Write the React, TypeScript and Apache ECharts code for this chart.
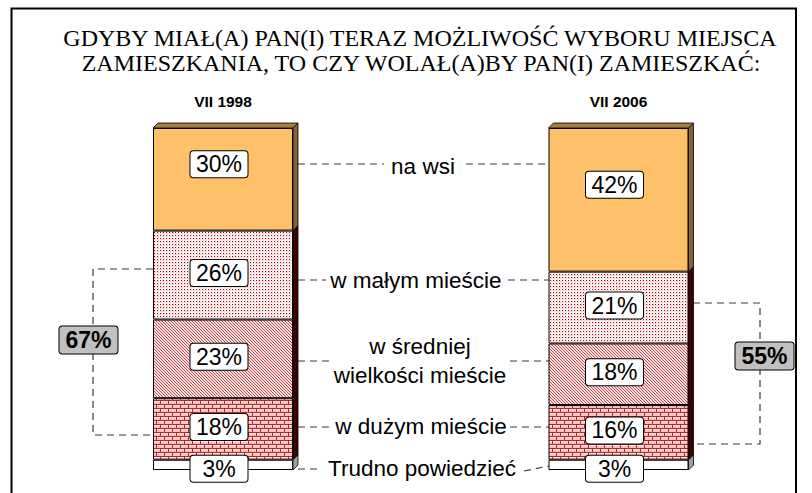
import React, { useEffect, useRef } from 'react';
import * as echarts from 'echarts';

const years = ['VII 1998', 'VII 2006'];
const categories = ['na wsi', 'w małym mieście', 'w średniej\nwielkości mieście', 'w dużym mieście', 'Trudno powiedzieć'];
const values1998 = [30, 26, 23, 18, 3];
const values2006 = [42, 21, 18, 16, 3];
const titleLines = [
  'GDYBY MIAŁ(A) PAN(I) TERAZ MOŻLIWOŚĆ WYBORU MIEJSCA',
  'ZAMIESZKANIA, TO CZY WOLAŁ(A)BY PAN(I) ZAMIESZKAĆ:',
];
// indices of the categories grouped by the brackets (towns)
const bracketGroup = [1, 2, 3];

const SANS = "'Liberation Sans', Arial, sans-serif";
const SERIF = "'Liberation Serif', 'Times New Roman', serif";
const HALF = 70;
const DEPTH = 5;

function makeTile(w: number, h: number, draw: (ctx: CanvasRenderingContext2D) => void) {
  const c = document.createElement('canvas');
  c.width = w;
  c.height = h;
  const ctx = c.getContext('2d') as CanvasRenderingContext2D;
  draw(ctx);
  return { image: c.toDataURL(), imageWidth: w, imageHeight: h, repeat: 'repeat' };
}

function buildFills() {
  const dotted = makeTile(3, 3, (ctx) => {
    ctx.fillStyle = '#ffffff';
    ctx.fillRect(0, 0, 3, 3);
    ctx.fillStyle = '#f1dede';
    ctx.fillRect(0, 2, 3, 1);
    ctx.fillRect(2, 0, 1, 3);
    ctx.fillStyle = '#b00000';
    ctx.fillRect(1, 1, 1, 1);
  });
  const diagonal = makeTile(3, 3, (ctx) => {
    ctx.fillStyle = '#f8e4e4';
    ctx.fillRect(0, 0, 3, 3);
    ctx.fillStyle = '#c04848';
    for (let i = 0; i < 3; i++) ctx.fillRect(i, i, 1, 1);
  });
  const brick = makeTile(8, 8, (ctx) => {
    ctx.fillStyle = '#fbeaea';
    ctx.fillRect(0, 0, 8, 8);
    ctx.fillStyle = '#f0c4c4';
    ctx.fillRect(0, 2, 8, 2);
    ctx.fillRect(0, 6, 8, 2);
    ctx.fillStyle = '#c02020';
    ctx.fillRect(0, 0, 8, 1);
    ctx.fillRect(0, 4, 8, 1);
    ctx.fillRect(0, 1, 1, 3);
    ctx.fillRect(4, 5, 1, 3);
  });
  return ['#ffc06a', dotted, diagonal, brick, '#ffffff'];
}

const sideColors = ['#86622f', '#3e0000', '#3e0000', '#3e0000', '#a0a0a0'];
const topColor = '#a67c45';

export default function App() {
  const ref = useRef<HTMLDivElement>(null);

  useEffect(() => {
    if (!ref.current) return;
    const chart = echarts.init(ref.current, undefined, { renderer: 'svg' });
    const fills = buildFills();
    const n = categories.length;

    const labelDy = (i: number) => (i === 0 ? -15 : i === n - 1 ? 4 : -2);

    const barSeries: any[] = [];
    for (let i = n - 1; i >= 0; i--) {
      barSeries.push({
        type: 'bar',
        name: categories[i],
        stack: 'total',
        barWidth: HALF * 2,
        clip: false,
        data: [values1998[i], values2006[i]],
        itemStyle: { color: fills[i], borderColor: '#000', borderWidth: 1 },
        label: {
          show: true,
          position: 'inside',
          offset: [-4, labelDy(i)],
          formatter: '{c}%',
          color: '#000',
          fontSize: 23,
          fontFamily: SANS,
          backgroundColor: '#fff',
          borderColor: '#000',
          borderWidth: 1,
          borderRadius: 3,
          width: 47,
          align: 'center',
          lineHeight: 25,
          padding: [1, 5, 0, 5],
        },
        emphasis: { disabled: true },
        z: 3,
      });
    }

    const faceData: number[][] = [];
    [values1998, values2006].forEach((vals, c) => {
      let cum = 0;
      for (let i = vals.length - 1; i >= 0; i--) {
        faceData.push([c, cum, cum + vals[i], i]);
        cum += vals[i];
      }
    });

    const faces = {
      type: 'custom',
      clip: false,
      z: 2,
      data: faceData,
      encode: { x: 0, y: [1, 2] },
      renderItem: (_p: any, api: any) => {
        const c = api.value(0);
        const lo = api.value(1);
        const hi = api.value(2);
        const idx = api.value(3);
        const pLo = api.coord([c, lo]);
        const pHi = api.coord([c, hi]);
        const xr = pLo[0] + HALF;
        const xl = pLo[0] - HALF;
        const d = DEPTH;
        const children: any[] = [
          {
            type: 'polygon',
            shape: { points: [[xr, pHi[1]], [xr + d, pHi[1] - d], [xr + d, pLo[1] - d], [xr, pLo[1]]] },
            style: { fill: sideColors[idx], stroke: '#000', lineWidth: 0.8 },
          },
        ];
        if (idx === 0) {
          children.push({
            type: 'polygon',
            shape: { points: [[xl, pHi[1]], [xl + d, pHi[1] - d], [xr + d, pHi[1] - d], [xr, pHi[1]]] },
            style: { fill: topColor, stroke: '#000', lineWidth: 0.8 },
          });
        }
        return { type: 'group', children };
      },
    };

    const sum98 = bracketGroup.reduce((s, i) => s + values1998[i], 0);
    const sum06 = bracketGroup.reduce((s, i) => s + values2006[i], 0);

    const dash = { stroke: '#3a3a3a', lineWidth: 1.2, lineDash: [7, 5], fill: 'none' };
    const seg = (x1: number, y1: number, x2: number, y2: number) => ({
      type: 'line',
      shape: { x1, y1, x2, y2 },
      style: dash,
      silent: true,
    });
    const midText = (text: string, x: number, y: number) => ({
      type: 'text',
      x,
      y,
      style: {
        text,
        fontSize: 22.5,
        fontFamily: SANS,
        fill: '#000',
        align: 'center',
        verticalAlign: 'middle',
        lineHeight: 29,
      },
    });
    const sumBox = (text: string, x: number, y: number) => ({
      type: 'text',
      x,
      y,
      z: 10,
      style: {
        text,
        fontSize: 23,
        fontWeight: 'bold',
        fontFamily: SANS,
        fill: '#000',
        align: 'center',
        verticalAlign: 'middle',
        backgroundColor: '#c0c0c0',
        borderColor: '#000',
        borderWidth: 1,
        borderRadius: 3,
        padding: [1, 6, 1, 6],
        lineHeight: 25,
      },
    });

    const graphic: any[] = [
      {
        type: 'polyline',
        shape: { points: [[11.5, 500], [11.5, 8.5], [796, 8.5], [796, 500]] },
        style: { stroke: '#000', lineWidth: 2, fill: 'none' },
      },
      {
        type: 'text',
        x: 420,
        y: 38,
        style: { text: titleLines[0], fontSize: 24, fontFamily: SERIF, fill: '#000', align: 'center', verticalAlign: 'middle' },
      },
      {
        type: 'text',
        x: 421,
        y: 63,
        style: { text: titleLines[1], fontSize: 24, fontFamily: SERIF, fill: '#000', align: 'center', verticalAlign: 'middle' },
      },
      // leader lines
      seg(298, 164, 384, 164),
      seg(466, 164, 549, 164),
      seg(298, 280, 326, 280),
      seg(508, 280, 549, 280),
      seg(298, 361, 330, 361),
      seg(510, 361, 549, 361),
      seg(298, 427, 334, 427),
      seg(510, 427, 549, 427),
      seg(298, 469, 320, 469),
      seg(524, 471, 549, 466),
      midText(categories[0], 423, 166),
      midText(categories[1], 416, 280),
      midText(categories[2], 420, 361),
      midText(categories[3], 421, 426),
      midText(categories[4], 422, 468),
      // brackets
      {
        type: 'polyline',
        shape: { points: [[153, 269], [93, 269], [93, 435], [153, 435]] },
        style: dash,
      },
      {
        type: 'polyline',
        shape: { points: [[693, 303], [760, 303], [760, 444], [693, 444]] },
        style: dash,
      },
      sumBox(sum98 + '%', 88.5, 340),
      sumBox(sum06 + '%', 764.5, 356),
    ];

    chart.setOption({
      animation: false,
      backgroundColor: '#ffffff',
      grid: { left: 223, right: 193.5, top: 128, bottom: 23 },
      xAxis: {
        type: 'category',
        data: years,
        position: 'top',
        boundaryGap: false,
        axisLine: { show: false },
        axisTick: { show: false },
        splitLine: { show: false },
        axisLabel: {
          interval: 0,
          margin: 19,
          fontSize: 15.5,
          fontWeight: 'bold',
          fontFamily: SANS,
          color: '#000',
        },
      },
      yAxis: { type: 'value', min: 0, max: 100, show: false },
      series: [faces, ...barSeries],
      graphic,
    });

    return () => chart.dispose();
  }, []);

  return <div ref={ref} style={{ position: 'absolute', left: 0, top: 0, width: 812, height: 493 }} />;
}
